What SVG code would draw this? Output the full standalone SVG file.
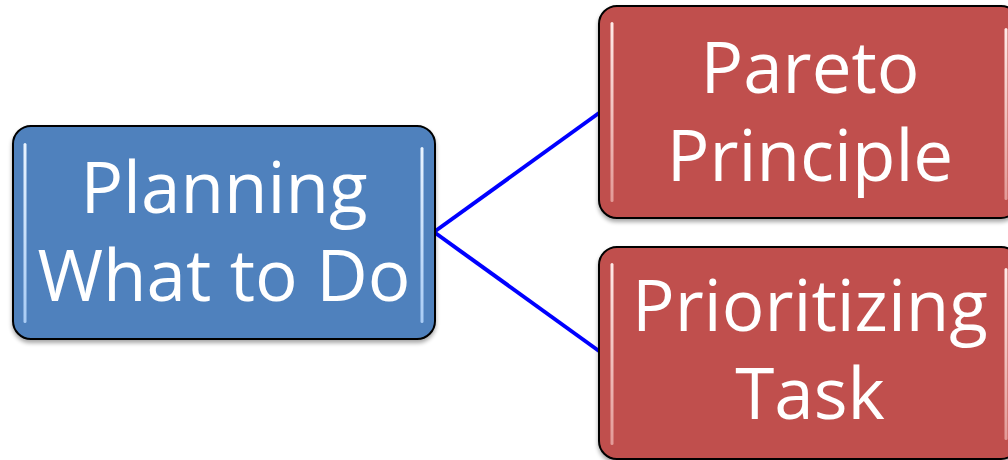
<svg xmlns="http://www.w3.org/2000/svg" width="1008" height="460" viewBox="0 0 1008 460">
  <style>
    .box { stroke: #000; stroke-width: 2; }
    .blue { fill: #4F81BD; }
    .red { fill: #C0504D; }
    .label { font-family: "Open Sans", "Noto Sans", sans-serif; font-size: 71px; fill: #fff; text-anchor: middle; }
    .edge { stroke: #0000FF; stroke-width: 4; fill: none; }
  </style>
  <defs>
    <filter id="shadow" x="-5%" y="-5%" width="110%" height="115%">
      <feGaussianBlur in="SourceAlpha" stdDeviation="2"/>
      <feOffset dx="0" dy="3" result="b"/>
      <feComponentTransfer><feFuncA type="linear" slope="0.35"/></feComponentTransfer>
      <feMerge><feMergeNode/><feMergeNode in="SourceGraphic"/></feMerge>
    </filter>
    <linearGradient id="glossBlue" x1="0" y1="0" x2="0" y2="1">
      <stop offset="0" stop-color="#EAF4FF"/>
      <stop offset="1" stop-color="#A9CCF5"/>
    </linearGradient>
    <linearGradient id="glossRed" x1="0" y1="0" x2="0" y2="1">
      <stop offset="0" stop-color="#FFEAE8"/>
      <stop offset="1" stop-color="#E39A97"/>
    </linearGradient>
  </defs>

  <g id="connectors">
    <line class="edge" x1="434" y1="232" x2="599" y2="113"/>
    <line class="edge" x1="434" y1="232" x2="599" y2="351"/>
  </g>

  <g id="node-planning" filter="url(#shadow)">
    <rect class="box blue" x="13" y="126" width="422" height="213" rx="18"/>
    <rect fill="url(#glossBlue)" x="23.5" y="143" width="3" height="180" rx="1.5"/>
    <rect fill="url(#glossBlue)" x="420.5" y="147" width="3" height="176" rx="1.5"/>
    <text class="label" x="224" y="213">Planning<tspan x="224" dy="88">What to Do</tspan></text>
  </g>

  <g id="node-pareto" filter="url(#shadow)">
    <rect class="box red" x="599" y="6" width="420" height="212" rx="18"/>
    <rect fill="url(#glossRed)" x="610.5" y="22" width="3" height="180" rx="1.5"/>
    <rect fill="url(#glossRed)" x="1004.5" y="28" width="3" height="172" rx="1.5"/>
    <text class="label" x="810" y="93">Pareto<tspan x="810" dy="88">Principle</tspan></text>
  </g>

  <g id="node-prioritizing" filter="url(#shadow)">
    <rect class="box red" x="599" y="247" width="420" height="212" rx="18"/>
    <rect fill="url(#glossRed)" x="610.5" y="263" width="3" height="182" rx="1.5"/>
    <rect fill="url(#glossRed)" x="1004.5" y="268" width="3" height="172" rx="1.5"/>
    <text class="label" x="810" y="331">Prioritizing<tspan x="810" dy="88">Task</tspan></text>
  </g>
</svg>
